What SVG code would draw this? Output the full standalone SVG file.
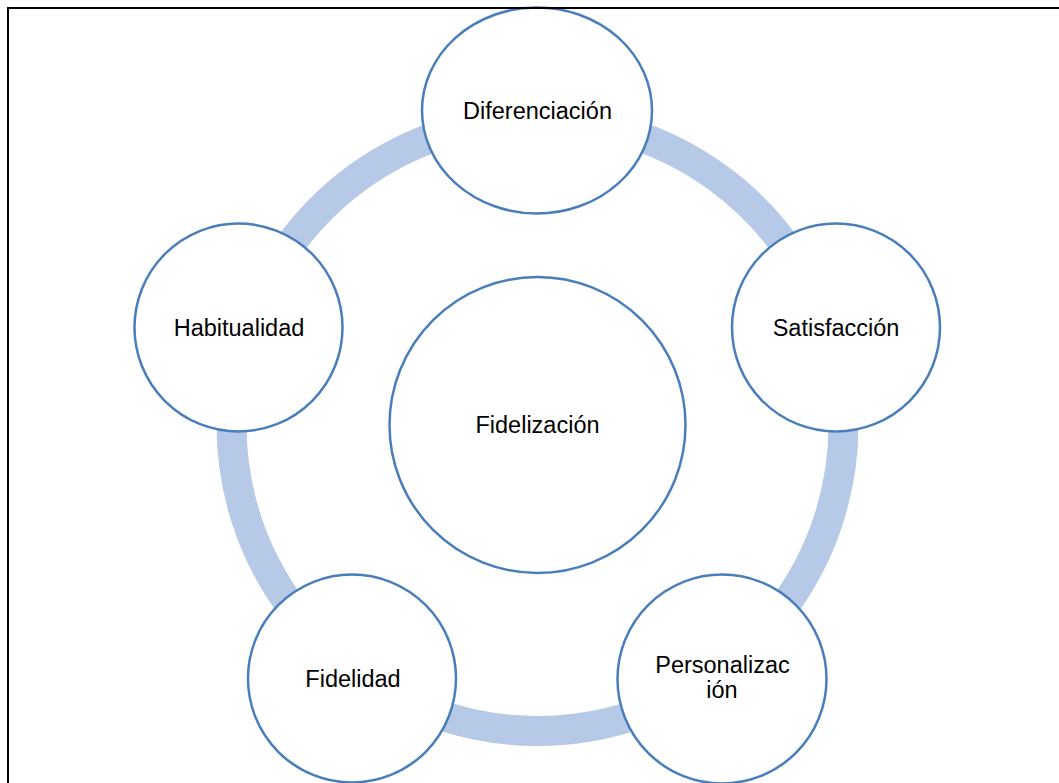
<svg xmlns="http://www.w3.org/2000/svg" width="1059" height="783" viewBox="0 0 1059 783">
<style>
.arc{fill:none;stroke:#B6CAE8;stroke-width:30}
.node{fill:#FFFFFF;stroke:#4A7EBB;stroke-width:2.5}
.lbl{font-family:"Liberation Sans",Arial,sans-serif;font-size:23.5px;fill:#000;text-anchor:middle}
.frame{fill:none;stroke:#000;stroke-width:2}
</style>
<rect width="1059" height="783" fill="#FFFFFF"/>
<g id="connectors">
<path class="arc" d="M537.5 119 A306 306 0 0 1 828.5 330.44"/>
<path class="arc" d="M828.5 330.44 A306 306 0 0 1 717.36 672.56"/>
<path class="arc" d="M717.36 672.56 A306 306 0 0 1 357.64 672.56"/>
<path class="arc" d="M357.64 672.56 A306 306 0 0 1 246.5 330.44"/>
<path class="arc" d="M246.5 330.44 A306 306 0 0 1 537.5 119"/>
</g>
<g id="fidelizacion">
<circle class="node" cx="537.5" cy="425" r="148"/>
<text class="lbl" x="537.5" y="433">Fidelización</text>
</g>
<g id="diferenciacion">
<ellipse class="node" cx="537" cy="110.5" rx="115" ry="103"/>
<text class="lbl" x="537.5" y="119">Diferenciación</text>
</g>
<g id="satisfaccion">
<circle class="node" cx="836" cy="327.5" r="104"/>
<text class="lbl" x="836" y="336">Satisfacción</text>
</g>
<g id="personalizacion">
<circle class="node" cx="722" cy="679" r="104.5"/>
<text class="lbl" x="722.5" y="673">Personalizac</text>
<text class="lbl" x="722" y="698">ión</text>
</g>
<g id="fidelidad">
<circle class="node" cx="352" cy="678.5" r="104"/>
<text class="lbl" x="353" y="687">Fidelidad</text>
</g>
<g id="habitualidad">
<circle class="node" cx="238.5" cy="327.5" r="104"/>
<text class="lbl" x="239" y="336">Habitualidad</text>
</g>
<g id="frame">
<path class="frame" d="M8 783 V8 H1059"/>
</g>
</svg>
